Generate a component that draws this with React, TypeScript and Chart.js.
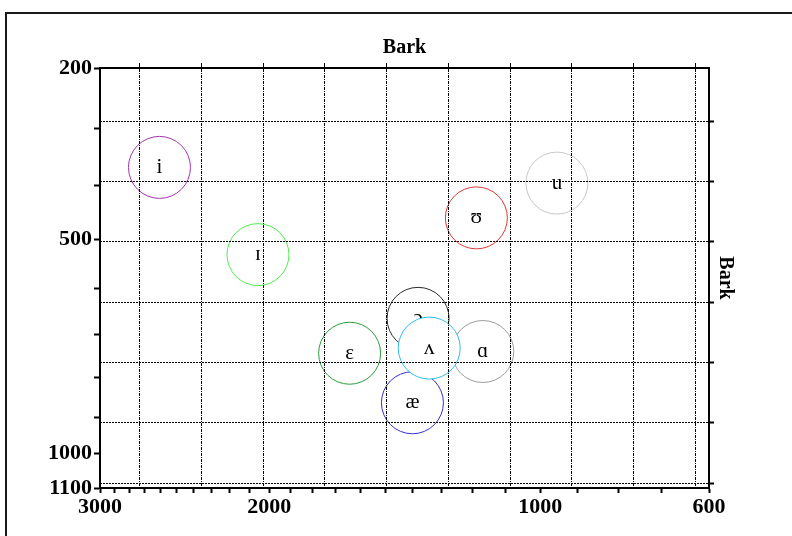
import React, { useEffect, useRef } from "react";
import { Chart, registerables } from "chart.js";

Chart.register(...registerables);

// Vowels (drawn in this order; later ones sit on top)
const VOWELS = ["i", "ɪ", "ʊ", "u", "ɔ", "ɛ", "ɑ", "æ", "ʌ"];
// First formant (Hz)
const F1_HZ = [367, 530, 459, 395, 663, 742, 738, 863, 730];
// Second formant (Hz)
const F2_HZ = [2605, 2056, 1188, 955, 1382, 1642, 1168, 1402, 1343];
const COLORS = ["#a034a8", "#4cee4c", "#e03434", "#c8c8c8", "#2a2a2a", "#2a9a3a", "#9c9c9c", "#3030d0", "#30bdee"];

// Hz tick marks and labels
const F2_TICKS_HZ = [600, 700, 800, 900, 1000, 1100, 1200, 1300, 1400, 1500, 1600, 1700, 1800, 1900, 2000, 2100, 2200, 2300, 2400, 2500, 2600, 2700, 2800, 2900, 3000];
const F2_LABELED = [600, 1000, 2000, 3000];
const F1_TICKS_HZ = [200, 300, 400, 500, 600, 700, 800, 900, 1000, 1100];
const F1_LABELED = [200, 500, 1000, 1100];
// Bark grid lines
const BARK_X_GRID = [6, 7, 8, 9, 10, 11, 12, 13, 14, 15];
const BARK_Y_GRID = [3, 4, 5, 6, 7, 8, 9];

const F2_MIN = 600;
const F2_MAX = 3000;
const F1_MIN = 200;
const F1_MAX = 1100;

const bark = (f: number) => 7 * Math.asinh(f / 650);

const TICK_FONT = { family: '"Liberation Serif", "Times New Roman", serif', size: 22, weight: "bold" as const };
const TITLE_FONT = { family: '"Liberation Serif", "Times New Roman", serif', size: 20, weight: "bold" as const };

const vowelLabels = {
  id: "vowelLabels",
  afterDatasetDraw(chart: any, args: any) {
    const ds = chart.data.datasets[args.index];
    const pt = args.meta.data[0];
    if (!pt) return;
    const ctx = chart.ctx;
    ctx.save();
    ctx.font = '21px "Liberation Serif", "DejaVu Serif", serif';
    ctx.fillStyle = "#000";
    ctx.textAlign = "center";
    ctx.textBaseline = "middle";
    ctx.fillText(ds.label, pt.x, pt.y);
    ctx.restore();
  },
};

export default function App() {
  const ref = useRef<HTMLCanvasElement | null>(null);

  useEffect(() => {
    if (!ref.current) return;
    const datasets = VOWELS.map((v, i) => ({
      label: v,
      data: [{ x: bark(F2_HZ[i]), y: bark(F1_HZ[i]) }],
      backgroundColor: "#ffffff",
      borderColor: COLORS[i],
      borderWidth: 1,
      pointRadius: 31,
      pointHoverRadius: 31,
      pointBorderWidth: 1,
      order: -i,
    }));

    const chart = new Chart(ref.current, {
      type: "scatter",
      data: { datasets },
      plugins: [vowelLabels],
      options: {
        animation: false,
        responsive: false,
        devicePixelRatio: 1,
        layout: { padding: 0 },
        plugins: { legend: { display: false }, tooltip: { enabled: false } },
        events: [],
        scales: {
          x: {
            type: "linear",
            position: "bottom",
            min: bark(F2_MIN),
            max: bark(F2_MAX),
            reverse: true,
            afterBuildTicks: (s: any) => {
              s.ticks = F2_TICKS_HZ.map((f) => ({ value: bark(f) }));
            },
            afterFit: (s: any) => {
              s.height = 48;
            },
            ticks: {
              autoSkip: false,
              maxRotation: 0,
              minRotation: 0,
              padding: 1,
              color: "#000",
              font: TICK_FONT,
              callback: (_v: any, i: number) => (F2_LABELED.includes(F2_TICKS_HZ[i]) ? String(F2_TICKS_HZ[i]) : ""),
            },
            grid: { drawOnChartArea: false, drawTicks: true, tickLength: 5, tickWidth: 2, tickColor: "#000" },
            border: { color: "#000", width: 2 },
          },
          y: {
            type: "linear",
            position: "left",
            min: bark(F1_MIN),
            max: bark(F1_MAX),
            reverse: true,
            afterBuildTicks: (s: any) => {
              s.ticks = F1_TICKS_HZ.map((f) => ({ value: bark(f) }));
            },
            afterFit: (s: any) => {
              s.width = 100;
            },
            ticks: {
              autoSkip: false,
              padding: 2,
              color: "#000",
              font: TICK_FONT,
              callback: (_v: any, i: number) => (F1_LABELED.includes(F1_TICKS_HZ[i]) ? String(F1_TICKS_HZ[i]) : ""),
            },
            grid: { drawOnChartArea: false, drawTicks: true, tickLength: 6, tickWidth: 2, tickColor: "#000" },
            border: { color: "#000", width: 2 },
          },
          x2: {
            type: "linear",
            axis: "x",
            position: "top",
            min: bark(F2_MIN),
            max: bark(F2_MAX),
            reverse: true,
            afterBuildTicks: (s: any) => {
              s.ticks = BARK_X_GRID.map((b) => ({ value: b }));
            },
            afterFit: (s: any) => {
              s.height = 68;
            },
            ticks: { display: false },
            grid: {
              drawOnChartArea: true,
              drawTicks: true,
              color: "#000",
              lineWidth: 1,
              tickLength: 5,
              tickWidth: 1,
              tickColor: "#000",
              z: 1,
            },
            border: { color: "#000", width: 2, dash: [3, 1, 1, 1], z: 2 },
            title: { display: true, text: "Bark", color: "#000", font: TITLE_FONT, padding: { top: 36, bottom: 0 } },
          },
          y2: {
            type: "linear",
            axis: "y",
            position: "right",
            min: bark(F1_MIN),
            max: bark(F1_MAX),
            reverse: true,
            afterBuildTicks: (s: any) => {
              s.ticks = BARK_Y_GRID.map((b) => ({ value: b }));
            },
            afterFit: (s: any) => {
              s.width = 83;
            },
            ticks: { display: false },
            grid: {
              drawOnChartArea: true,
              drawTicks: true,
              color: "#000",
              lineWidth: 1,
              tickLength: 5,
              tickWidth: 2,
              tickColor: "#000",
              z: 1,
            },
            border: { color: "#000", width: 2, dash: [2, 1], z: 2 },
            title: { display: true, text: "Bark", color: "#000", font: TITLE_FONT, padding: { top: 55, bottom: 0 } },
          },
        },
      } as any,
    });
    return () => chart.destroy();
  }, []);

  return (
    <div style={{ position: "fixed", left: 0, top: 0, width: 792, height: 536, overflow: "hidden", background: "#fff" }}>
      <div
        style={{
          position: "absolute",
          left: 5,
          top: 12,
          width: 900,
          height: 700,
          border: "2px solid #1a1a1a",
          boxSizing: "border-box",
        }}
      />
      <canvas ref={ref} width={792} height={536} style={{ position: "absolute", left: 0, top: 0, width: 792, height: 536 }} />
    </div>
  );
}
